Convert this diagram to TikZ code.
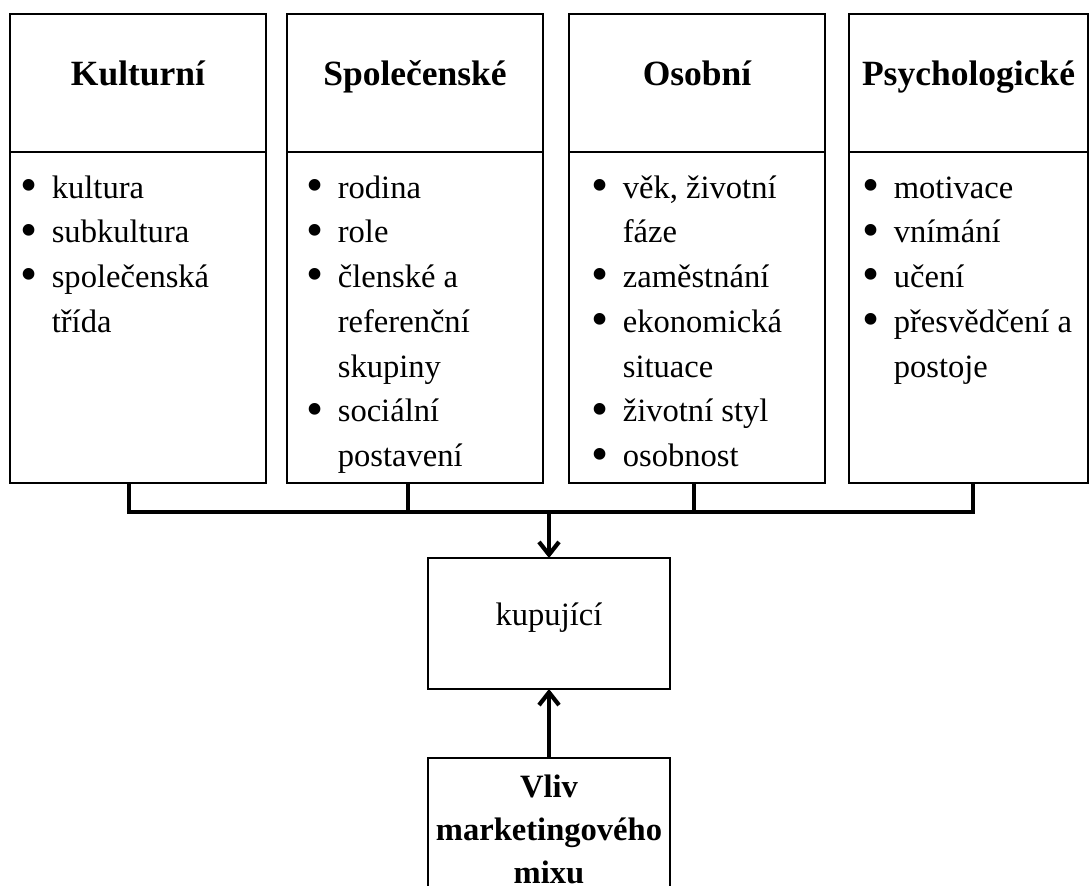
\documentclass[tikz,border=0pt]{standalone}
\usepackage{fontspec}
\setmainfont{Liberation Serif}
\usetikzlibrary{arrows.meta,positioning,calc}
\tikzset{
  headbox/.style={draw, line width=1.4pt, minimum width=7.68cm, minimum height=4.14cm, inner sep=0pt, outer sep=0pt, font=\fontsize{30.3}{36}\selectfont\bfseries, text height=0.6em, text depth=0.26em},
  bodybox/.style={draw, line width=1.4pt, minimum width=7.68cm, minimum height=9.93cm, inner sep=0pt, outer sep=0pt},
  itemlist/.style={anchor=north west, inner sep=0pt, align=left, font=\fontsize{27.8}{38.2}\selectfont},
  buyerbox/.style={draw, line width=1.4pt, minimum width=7.26cm, minimum height=3.93cm, inner sep=0pt, outer sep=0pt, font=\fontsize{27.8}{36}\selectfont, text height=0.62em, text depth=0.24em},
  mixbox/.style={draw, line width=1.4pt, anchor=north, minimum width=7.26cm, inner xsep=0pt, inner ysep=5.5pt, outer sep=0pt, align=center, font=\fontsize{27.8}{36.7}\selectfont\bfseries},
  flow/.style={-{Straight Barb[length=3.8mm,width=6mm]}, line width=3.6pt},
  bus/.style={line width=4.2pt, line join=miter}
}
\newcommand{\bul}{\makebox[0.97em][l]{\raisebox{-0.1em}{\scalebox{1.5}{\textbullet}}}}
\newcommand{\cont}{\hspace*{0.97em}}
\newcommand{\topstrut}{\rule{0pt}{1em}}

\begin{document}
\begin{tikzpicture}[x=0.03cm, y=-0.03cm]
  \useasboundingbox (0,0) rectangle (1091,885);
  % headers
  \node[headbox, anchor=north west] (kultH) at (10,14) {Kulturní};
  \node[headbox, anchor=north west] (spolH) at (287,14) {Společenské};
  \node[headbox, anchor=north west] (osobH) at (569,14) {Osobní};
  \node[headbox, anchor=north west, minimum width=7.17cm] (psychH) at (849,14) {Psychologické};
  % list boxes
  \node[bodybox, below=0pt of kultH] (kultB) {};
  \node[bodybox, below=0pt of spolH] (spolB) {};
  \node[bodybox, below=0pt of osobH] (osobB) {};
  \node[bodybox, below=0pt of psychH, minimum width=7.17cm] (psychB) {};
  % items
  \node[itemlist] (kultI) at ([shift={(10,13.4)}]kultB.north west)
    {\topstrut\bul kultura\\ \bul subkultura\\ \bul společenská\\ \cont třída};
  \node[itemlist] (spolI) at ([shift={(19,13.4)}]spolB.north west)
    {\topstrut\bul rodina\\ \bul role\\ \bul členské a\\ \cont referenční\\ \cont skupiny\\ \bul sociální\\ \cont postavení};
  \node[itemlist] (osobI) at ([shift={(22,13.4)}]osobB.north west)
    {\topstrut\bul věk, životní\\ \cont fáze\\ \bul zaměstnání\\ \bul ekonomická\\ \cont situace\\ \bul životní styl\\ \bul osobnost};
  \node[itemlist] (psychI) at ([shift={(13,13.4)}]psychB.north west)
    {\topstrut\bul motivace\\ \bul vnímání\\ \bul učení\\ \bul přesvědčení a\\ \cont postoje};
  % buyer and marketing mix
  \node[buyerbox] (buyer) at (549,623.5) {kupující};
  \node[mixbox] (mix) at (549,758) {\topstrut Vliv\\ marketingového\\ mixu};
  % connectors
  \coordinate (s1) at (129,512);
  \coordinate (s2) at (408,512);
  \coordinate (s3) at (694,512);
  \coordinate (s4) at (973,512);
  \coordinate (hub) at (549,512);
  \draw[bus] (kultB.south -| s1) -- (s1) -- (s4) -- (psychB.south -| s4);
  \draw[bus] (spolB.south -| s2) -- (s2);
  \draw[bus] (osobB.south -| s3) -- (s3);
  \draw[flow] (hub) -- (buyer.north);
  \draw[flow] (mix.north) -- (buyer.south);
\end{tikzpicture}
\end{document}
